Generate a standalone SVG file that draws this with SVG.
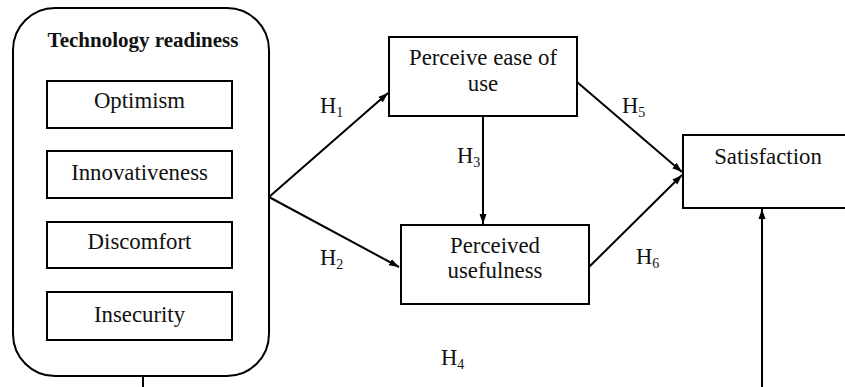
<svg xmlns="http://www.w3.org/2000/svg" width="845" height="387" viewBox="0 0 845 387">
<defs>
<marker id="arr" viewBox="0 0 10 10" refX="10" refY="5" markerWidth="10" markerHeight="10" markerUnits="userSpaceOnUse" orient="auto">
<path d="M0,1.5 L10,5 L0,8.5 Z" fill="#000"/>
</marker>
</defs>
<style>
.box{fill:#fff;stroke:#000;stroke-width:2}
text{font-family:'Liberation Serif','DejaVu Serif',serif;fill:#111}
.t{font-size:22.8px;text-anchor:middle}
.b{font-weight:bold;font-size:21px}
.h{font-size:22.5px}
.s{font-size:14px}
.c{fill:none;stroke:#000;stroke-width:2}
</style>
<rect width="845" height="387" fill="#fff"/>
<g id="technology-readiness">
<rect class="box" x="13" y="8" width="256" height="368" rx="42" ry="42"/>
<text class="t b" x="143" y="47">Technology readiness</text>
</g>
<g id="optimism">
<rect class="box" x="47" y="81" width="185" height="47"/>
<text class="t" x="139.5" y="108">Optimism</text>
</g>
<g id="innovativeness">
<rect class="box" x="47" y="151" width="185" height="47"/>
<text class="t" x="139.5" y="180">Innovativeness</text>
</g>
<g id="discomfort">
<rect class="box" x="47" y="222" width="185" height="46"/>
<text class="t" x="139.5" y="249">Discomfort</text>
</g>
<g id="insecurity">
<rect class="box" x="47" y="292" width="185" height="48"/>
<text class="t" x="139.5" y="322">Insecurity</text>
</g>
<g id="perceive-ease-of-use">
<rect class="box" x="389" y="37" width="188" height="79"/>
<text class="t" x="483" y="65">Perceive ease of</text>
<text class="t" x="483" y="91">use</text>
</g>
<g id="perceived-usefulness">
<rect class="box" x="401" y="225" width="188" height="79"/>
<text class="t" x="495" y="253">Perceived</text>
<text class="t" x="495" y="278">usefulness</text>
</g>
<g id="satisfaction">
<rect class="box" x="683" y="135" width="180" height="73"/>
<text class="t" x="768" y="164">Satisfaction</text>
</g>
<g id="connectors">
<path class="c" d="M269,197 L388,93" marker-end="url(#arr)"/>
<path class="c" d="M269,197 L399,267" marker-end="url(#arr)"/>
<path class="c" d="M483,116 L483,224" marker-end="url(#arr)"/>
<path class="c" d="M577,82 L682,172" marker-end="url(#arr)"/>
<path class="c" d="M589,267 L682,175" marker-end="url(#arr)"/>
<path class="c" d="M143,376 L143,390"/>
<path class="c" d="M762,390 L762,209" marker-end="url(#arr)"/>
</g>
<g id="labels">
<text class="h" x="320" y="113">H<tspan class="s" dy="4">1</tspan></text>
<text class="h" x="320" y="265">H<tspan class="s" dy="4">2</tspan></text>
<text class="h" x="457" y="163">H<tspan class="s" dy="4">3</tspan></text>
<text class="h" x="441" y="365">H<tspan class="s" dy="4">4</tspan></text>
<text class="h" x="622" y="113">H<tspan class="s" dy="4">5</tspan></text>
<text class="h" x="636" y="264">H<tspan class="s" dy="4">6</tspan></text>
</g>
</svg>
